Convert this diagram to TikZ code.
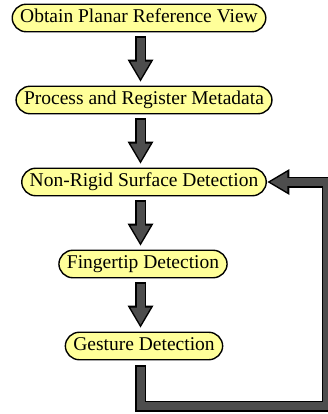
\documentclass[tikz,border=0pt]{standalone}
\usepackage{fontspec}
\setmainfont{Liberation Serif}
\usetikzlibrary{arrows.meta}
\definecolor{boxyellow}{HTML}{FFFF99}
\definecolor{arrowgray}{HTML}{4D4D4D}

\begin{document}
\begin{tikzpicture}[node distance={82pt},
  main/.style = {draw, line width=1.4pt, fill=boxyellow, rounded corners=14pt, inner xsep=8pt, inner ysep=5pt, text height=13.5pt, text depth=4pt, font=\fontsize{19.5}{22}\selectfont},
  arrowout/.style = {draw=black, line width=11pt, line join=miter, shorten <=4pt, shorten >=4pt, -{Triangle[width=26pt, length=22pt, line width=0pt]}},
  arrowin/.style = {draw=arrowgray, line width=8pt, line join=miter, shorten <=5.5pt, shorten >=6.9pt, -{Triangle[width=20pt, length=17pt, line width=0pt]}}]
\useasboundingbox (0,0) rectangle (328pt,-414pt);

\node[main] (1) at (139pt,-18pt) {Obtain Planar Reference View};
\node[main] (2) [below of=1, xshift=5pt] {Process and Register Metadata};
\node[main] (3) [below of=2] {Non-Rigid Surface Detection};
\node[main] (4) [below of=3, xshift=-1pt] {Fingertip Detection};
\node[main] (5) [below of=4, xshift=1pt] {Gesture Detection};

\coordinate (axis) at (140.5pt,0);
\coordinate (corner) at (327pt,-406pt);

\draw[arrowout] (axis |- 1.south) -- (axis |- 2.north);
\draw[arrowin] (axis |- 1.south) -- (axis |- 2.north);

\draw[arrowout] (axis |- 2.south) -- (axis |- 3.north);
\draw[arrowin] (axis |- 2.south) -- (axis |- 3.north);

\draw[arrowout] (axis |- 3.south) -- (axis |- 4.north);
\draw[arrowin] (axis |- 3.south) -- (axis |- 4.north);

\draw[arrowout] (axis |- 4.south) -- (axis |- 5.north);
\draw[arrowin] (axis |- 4.south) -- (axis |- 5.north);

\draw[arrowout, shorten <=5pt, shorten >=0.5pt] (axis |- 5.south) |- (corner) |- (3.east);
\draw[arrowin, shorten <=6.5pt, shorten >=3.4pt] (axis |- 5.south) |- (corner) |- (3.east);

\end{tikzpicture}
\end{document}
